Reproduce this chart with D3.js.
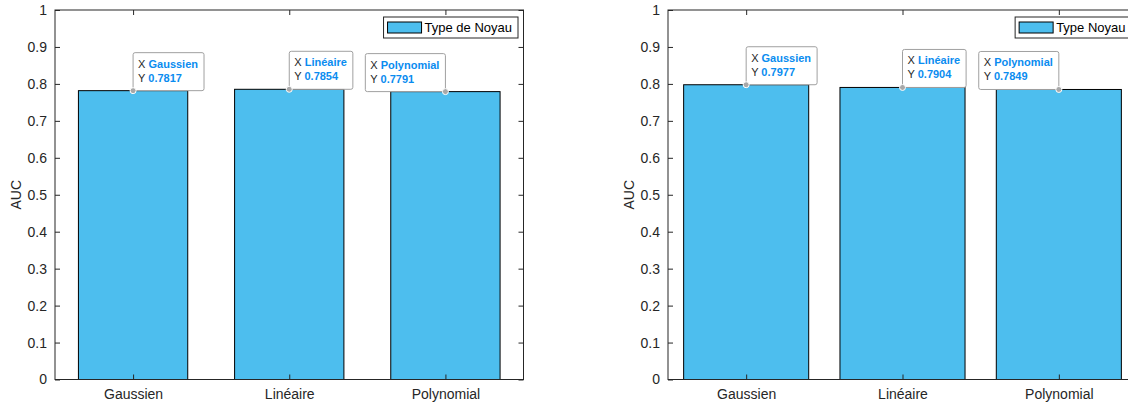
<!DOCTYPE html>
<html><head><meta charset="utf-8">
<script src="https://cdn.jsdelivr.net/npm/d3@7"></script>
<style>
body{margin:0;background:#fff;overflow:hidden}
svg{display:block}
text{font-family:"Liberation Sans",Arial,Helvetica,sans-serif}
</style>
</head><body>
<svg id="c" width="1128" height="405"></svg>
<script>
// ---- data ----
const categories = ["Gaussien", "Linéaire", "Polynomial"];
const aucLeft = [0.7817, 0.7854, 0.7791];
const aucRight = [0.7977, 0.7904, 0.7849];
const yTicks = [0, 0.1, 0.2, 0.3, 0.4, 0.5, 0.6, 0.7, 0.8, 0.9, 1];
const yTickLabels = ["0", "0.1", "0.2", "0.3", "0.4", "0.5", "0.6", "0.7", "0.8", "0.9", "1"];
const yLabel = "AUC";
const legendLeft = "Type de Noyau";
const legendRight = "Type Noyau";
const tipSides = ["right", "right", "left"];

// ---- style ----
const axisColor = "#262626";
const barColor = "#4DBEEE";
const tipBlue = "#0a8cf0";

const svg = d3.select("#c");

function panel(opts) {
  const {x0, x1, y0, y1, values, barWidth, legendText, labelX} = opts;
  const g = svg.append("g");
  const x = d3.scaleLinear().domain([0.5, categories.length + 0.5]).range([x0, x1]);
  const y = d3.scaleLinear().domain([0, 1]).range([y0, y1]);
  const unit = x(1) - x(0);

  // bars
  g.selectAll("rect.bar").data(values).join("rect")
    .attr("class", "bar")
    .attr("x", (d, i) => x(i + 1) - unit * barWidth / 2)
    .attr("width", unit * barWidth)
    .attr("y", d => y(d))
    .attr("height", d => y(0) - y(d))
    .attr("fill", barColor)
    .attr("stroke", "#000")
    .attr("stroke-width", 1);

  const catTicks = categories.map((c, i) => i + 1);

  // axes
  const ax = [
    g.append("g").attr("transform", `translate(${x0},0)`)
      .call(d3.axisLeft(y).tickValues(yTicks).tickFormat((d, i) => yTickLabels[i]).tickSizeInner(-5).tickSizeOuter(0).tickPadding(8)),
    g.append("g").attr("transform", `translate(${x1},0)`)
      .call(d3.axisRight(y).tickValues(yTicks).tickFormat("").tickSizeInner(-5).tickSizeOuter(0)),
    g.append("g").attr("transform", `translate(0,${y0})`)
      .call(d3.axisBottom(x).tickValues(catTicks).tickFormat((d, i) => categories[i]).tickSizeInner(-5).tickSizeOuter(0).tickPadding(10)),
    g.append("g").attr("transform", `translate(0,${y1})`)
      .call(d3.axisTop(x).tickValues(catTicks).tickFormat("").tickSizeInner(-5).tickSizeOuter(0))
  ];
  ax.forEach(a => {
    a.select(".domain").remove();
    a.selectAll("line").attr("stroke", axisColor);
    a.selectAll("text").attr("fill", axisColor).style("font-size", "14px")
      .style("font-family", '"Liberation Sans",Arial,sans-serif');
  });
  g.append("rect").attr("x", x0).attr("y", y1).attr("width", x1 - x0).attr("height", y0 - y1)
    .attr("fill", "none").attr("stroke", axisColor).attr("stroke-width", 1);

  // y label
  g.append("text").attr("transform", `translate(${labelX},${(y0 + y1) / 2}) rotate(-90)`)
    .attr("text-anchor", "middle").attr("fill", axisColor).style("font-size", "14px").text(yLabel);

  // legend
  const lg = g.append("g");
  const lt = lg.append("text").style("font-size", "13px").attr("fill", "#000").text(legendText);
  const tw = lt.node().getComputedTextLength();
  const lw = 4 + 34 + 3 + tw + 6;
  const lx = x1 - 5.5 - lw, ly = y1 + 7;
  lg.insert("rect", "text").attr("x", lx).attr("y", ly).attr("width", lw).attr("height", 21)
    .attr("fill", "#fff").attr("stroke", axisColor).attr("stroke-width", 1);
  lg.insert("rect", "text").attr("x", lx + 4).attr("y", ly + 5).attr("width", 34).attr("height", 11)
    .attr("fill", barColor).attr("stroke", "#000").attr("stroke-width", 1);
  lt.attr("x", lx + 41).attr("y", ly + 15);

  // data tips
  values.forEach((v, i) => {
    const px = x(i + 1), py = y(v);
    const tg = g.append("g");
    const t1 = tg.append("text").style("font-size", "11px");
    t1.append("tspan").attr("fill", axisColor).text("X ");
    t1.append("tspan").attr("fill", tipBlue).attr("font-weight", "bold").text(categories[i]);
    const t2 = tg.append("text").style("font-size", "11px");
    t2.append("tspan").attr("fill", axisColor).text("Y ");
    t2.append("tspan").attr("fill", tipBlue).attr("font-weight", "bold").text(v.toFixed(4));
    const w = Math.max(t1.node().getComputedTextLength(), t2.node().getComputedTextLength()) + 11;
    const h = 38;
    const bx = tipSides[i] === "right" ? px : px - w;
    const by = py - h;
    tg.insert("rect", "text").attr("x", bx).attr("y", by).attr("width", w).attr("height", h)
      .attr("rx", 2).attr("fill", "#fff").attr("fill-opacity", 0.95)
      .attr("stroke", "#a0a0a0").attr("stroke-width", 1);
    t1.attr("x", bx + 5).attr("y", by + 15);
    t2.attr("x", bx + 5).attr("y", by + 29);
    tg.append("circle").attr("cx", px).attr("cy", py).attr("r", 3)
      .attr("fill", "#a8a8a8").attr("stroke", "#fff").attr("stroke-width", 1);
  });
}

panel({x0: 55, x1: 523.5, y0: 379.5, y1: 10, values: aucLeft, barWidth: 0.7, legendText: legendLeft, labelX: 21});
panel({x0: 668, x1: 1137, y0: 379.5, y1: 10, values: aucRight, barWidth: 0.8, legendText: legendRight, labelX: 634});
</script>
</body></html>
